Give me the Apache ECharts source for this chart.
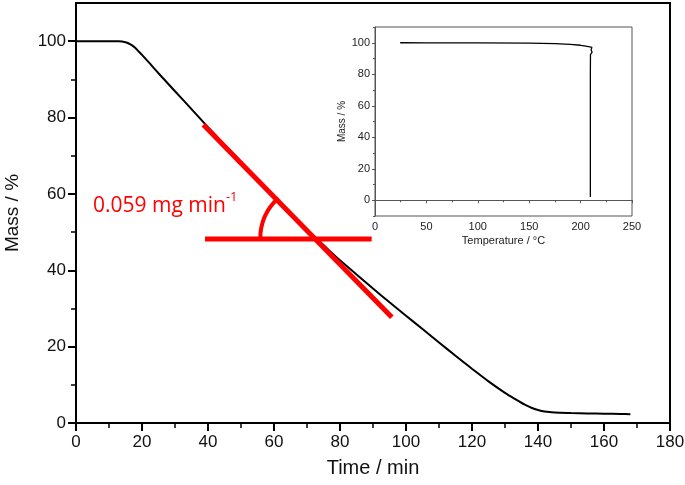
<!DOCTYPE html>
<html>
<head>
<meta charset="utf-8">
<script src="https://cdn.jsdelivr.net/npm/echarts@6/dist/echarts.min.js"></script>
<style>html,body{margin:0;padding:0;background:#fff}#c{width:685px;height:485px}</style>
</head>
<body>
<div id="c"></div>
<script>
// ---- main curve: mass (%) vs time (min)
const timeMin = [0, 5, 10, 13, 15, 16, 17, 18, 19, 20, 22, 25, 30, 35, 40, 45, 50, 55, 60, 65, 70, 75, 80, 85, 90, 95, 100, 105, 110, 115, 120, 125, 130, 133, 136, 138, 140, 142, 145, 150, 155, 160, 165, 168];
const massMain = [100, 100, 100, 99.95, 99.7, 99.4, 98.9, 98.2, 97.3, 96.4, 94.5, 91.6, 86.9, 82.2, 77.5, 72.9, 68.4, 63.9, 59.4, 55.0, 50.6, 46.6, 42.6, 38.9, 35.2, 31.6, 28.1, 24.6, 21.1, 17.6, 14.2, 10.9, 7.9, 6.3, 4.8, 4.0, 3.4, 3.0, 2.75, 2.6, 2.5, 2.45, 2.35, 2.3];
// ---- inset: mass (%) vs temperature (°C)
const tempC = [24.5, 50, 100, 150, 175, 190, 200, 205, 209, 211, 212.3, 211.6, 210.2, 209.8, 211.2, 210.0, 209.6, 209.5, 209.5, 209.5];
const massInset = [100, 99.95, 99.9, 99.8, 99.5, 99.0, 98.4, 97.9, 97.4, 97.1, 96.6, 95.9, 95.5, 94.8, 94.0, 93.2, 92.5, 80, 40, 2];
// ---- annotation (data coordinates of main axes)
const tangentX = [38.6, 95.7];
const tangentY = [78.1, 27.7];
const baseX = [39.1, 89.6];
const baseY = [48.2, 48.2];
const arcCenter = [72.5, 48.2];
// ---- tick labels
const mainXTicks = [0, 20, 40, 60, 80, 100, 120, 140, 160, 180];
const mainYTicks = [0, 20, 40, 60, 80, 100];
const mainYMinor = [10, 30, 50, 70, 90];
const insetXTicks = [0, 50, 100, 150, 200, 250];
const insetYTicks = [0, 20, 40, 60, 80, 100];
const insetYMinor = [-10, 10, 30, 50, 70, 90, 110];
const slopeLabel = '0.059 mg min';
const slopeSup = '-1';

const zip = (a, b) => a.map((v, i) => [v, b[i]]);
const F = 'Liberation Sans, Arial, sans-serif';

const chart = echarts.init(document.getElementById('c'), null, {renderer: 'canvas'});
chart.setOption({
  animation: false,
  backgroundColor: '#fff',
  grid: [
    {left: 76, top: 3, width: 594, height: 420, show: true, borderColor: '#000', borderWidth: 2, backgroundColor: 'transparent', containLabel: false, outerBoundsMode: 'none'},
    {left: 375, top: 27, width: 257, height: 189, show: true, borderColor: '#555', borderWidth: 1, backgroundColor: 'transparent', containLabel: false, outerBoundsMode: 'none'}
  ],
  xAxis: [
    {gridIndex: 0, type: 'value', min: 0, max: 180, interval: 20,
     axisLine: {lineStyle: {color: '#000', width: 2}},
     axisTick: {length: 8, lineStyle: {color: '#000', width: 2}, customValues: mainXTicks},
     minorTick: {show: true, splitNumber: 2, length: 5, lineStyle: {color: '#000', width: 1.5}},
     axisLabel: {fontSize: 17, fontFamily: F, color: '#111', margin: 11, customValues: mainXTicks},
     splitLine: {show: false},
     name: 'Time / min', nameLocation: 'middle', nameGap: 35,
     nameTextStyle: {fontSize: 20, fontFamily: F, color: '#111'}},
    {gridIndex: 1, type: 'value', min: 0, max: 250, interval: 50,
     axisLine: {lineStyle: {color: '#555', width: 1}},
     axisTick: {length: 3, lineStyle: {color: '#555', width: 1}},
     minorTick: {show: true, splitNumber: 2, length: 2, lineStyle: {color: '#555', width: 1}},
     axisLabel: {fontSize: 11, fontFamily: F, color: '#222', margin: 5},
     splitLine: {show: false},
     name: 'Temperature / °C', nameLocation: 'middle', nameGap: 19,
     nameTextStyle: {fontSize: 11, fontFamily: F, color: '#222'}}
  ],
  yAxis: [
    {gridIndex: 0, type: 'value', min: 0, max: 110,
     axisLine: {lineStyle: {color: '#000', width: 2}},
     axisTick: {length: 8, lineStyle: {color: '#000', width: 2}, customValues: mainYTicks},
     axisLabel: {fontSize: 17, fontFamily: F, color: '#111', margin: 10, customValues: mainYTicks},
     splitLine: {show: false},
     name: 'Mass / %', nameLocation: 'middle', nameGap: 54,
     nameTextStyle: {fontSize: 19, fontFamily: F, color: '#111'}},
    {gridIndex: 0, type: 'value', min: 0, max: 110, position: 'left',
     axisLine: {show: false},
     axisTick: {length: 5, lineStyle: {color: '#000', width: 1.5}, customValues: mainYMinor},
     axisLabel: {show: false}, splitLine: {show: false}},
    {gridIndex: 1, type: 'value', min: -10, max: 110,
     axisLine: {lineStyle: {color: '#555', width: 1}},
     axisTick: {length: 3, lineStyle: {color: '#555', width: 1}, customValues: insetYTicks},
     axisLabel: {fontSize: 11, fontFamily: F, color: '#222', margin: 5, customValues: insetYTicks},
     splitLine: {show: false},
     name: 'Mass / %', nameLocation: 'middle', nameGap: 25,
     nameTextStyle: {fontSize: 10, fontFamily: F, color: '#222'}},
    {gridIndex: 1, type: 'value', min: -10, max: 110, position: 'left',
     axisLine: {show: false},
     axisTick: {length: 2, lineStyle: {color: '#555', width: 1}, customValues: insetYMinor},
     axisLabel: {show: false}, splitLine: {show: false}}
  ],
  series: [
    {type: 'line', xAxisIndex: 0, yAxisIndex: 0, data: zip(timeMin, massMain), showSymbol: false, smooth: 0.3,
     lineStyle: {color: '#000', width: 2}, z: 2},
    {type: 'line', xAxisIndex: 1, yAxisIndex: 2, data: zip(tempC, massInset), showSymbol: false,
     lineStyle: {color: '#000', width: 1.3}, z: 2},
    {type: 'line', xAxisIndex: 0, yAxisIndex: 0, data: zip(tangentX, tangentY), showSymbol: false,
     lineStyle: {color: '#ff0000', width: 5}, z: 3},
    {type: 'line', xAxisIndex: 0, yAxisIndex: 0, data: zip(baseX, baseY), showSymbol: false,
     lineStyle: {color: '#ff0000', width: 5}, z: 3},
    {type: 'custom', xAxisIndex: 0, yAxisIndex: 0, data: [arcCenter], z: 3,
     renderItem: function (params, api) {
       const c = api.coord([api.value(0), api.value(1)]);
       return {type: 'arc', shape: {cx: c[0], cy: c[1], r: 55, startAngle: Math.PI, endAngle: 228 * Math.PI / 180, clockwise: true},
               style: {stroke: '#ff0000', lineWidth: 4, fill: null}};
     }}
  ],
  graphic: [
    {type: 'text', left: 93, top: 191, z: 10,
     style: {text: '{a|' + slopeLabel + '}{b|' + slopeSup + '}',
       rich: {a: {fontSize: 21, fontFamily: 'Open Sans', fill: '#ff0000', color: '#ff0000', verticalAlign: 'bottom', lineHeight: 26},
              b: {fontSize: 13, fontFamily: 'Open Sans', fill: '#ff0000', color: '#ff0000', verticalAlign: 'top', lineHeight: 26}}}}
  ]
});
</script>
</body>
</html>
